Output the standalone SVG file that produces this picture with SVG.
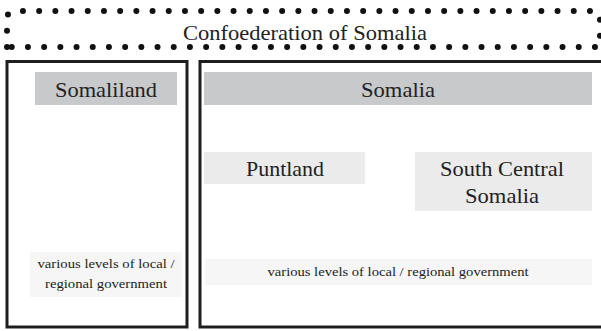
<svg xmlns="http://www.w3.org/2000/svg" width="601" height="331" viewBox="0 0 601 331">
  <style>
    .t { fill: #222; text-anchor: middle; font-family: "Liberation Serif", "DejaVu Serif", serif; }
    .frame { fill: none; stroke: #1e1e1e; stroke-width: 3; }
    .dark { fill: #c8c9ca; }
    .mid { fill: #ebebeb; }
    .pale { fill: #f6f6f6; }
  </style>
  <rect width="601" height="331" fill="#ffffff"/>

  <!-- confederation banner with dotted outline -->
  <g id="confederation">
    <path d="M7,47 V19 Q7,11 15,11 H594 Q600,11 600,17 V47 Z" fill="none" stroke="#111" stroke-width="6" stroke-linecap="round" stroke-dasharray="0 16.2"/>
    <text class="t" x="305" y="40" font-size="21" textLength="244" lengthAdjust="spacingAndGlyphs">Confoederation of Somalia</text>
  </g>

  <!-- Somaliland column -->
  <g id="somaliland">
    <rect class="frame" x="7" y="61.5" width="180" height="265.5"/>
    <rect class="dark" x="35" y="72" width="142" height="33"/>
    <text class="t" x="106" y="97" font-size="21" textLength="102" lengthAdjust="spacingAndGlyphs">Somaliland</text>
  </g>
  <g id="somaliland-local">
    <rect class="pale" x="30" y="252" width="152" height="45"/>
    <text class="t" x="106" y="268" font-size="12.5" textLength="137" lengthAdjust="spacingAndGlyphs">various levels of local /</text>
    <text class="t" x="106" y="288" font-size="12.5" textLength="122" lengthAdjust="spacingAndGlyphs">regional government</text>
  </g>

  <!-- Somalia column -->
  <g id="somalia">
    <rect class="frame" x="200" y="61.5" width="404" height="265.5"/>
    <rect class="dark" x="204" y="72" width="388" height="33"/>
    <text class="t" x="398" y="97" font-size="21" textLength="74" lengthAdjust="spacingAndGlyphs">Somalia</text>
  </g>
  <g id="puntland">
    <rect class="mid" x="204" y="152" width="161" height="32"/>
    <text class="t" x="285" y="176" font-size="21" textLength="78" lengthAdjust="spacingAndGlyphs">Puntland</text>
  </g>
  <g id="south-central">
    <rect class="mid" x="415" y="152" width="177" height="59"/>
    <text class="t" x="502" y="176" font-size="21" textLength="124" lengthAdjust="spacingAndGlyphs">South Central</text>
    <text class="t" x="502" y="203" font-size="21" textLength="74" lengthAdjust="spacingAndGlyphs">Somalia</text>
  </g>
  <g id="somalia-local">
    <rect class="pale" x="205" y="259" width="387" height="26"/>
    <text class="t" x="398" y="276" font-size="12.5" textLength="261" lengthAdjust="spacingAndGlyphs">various levels of local / regional government</text>
  </g>

  <g id="connectors"/>
</svg>
